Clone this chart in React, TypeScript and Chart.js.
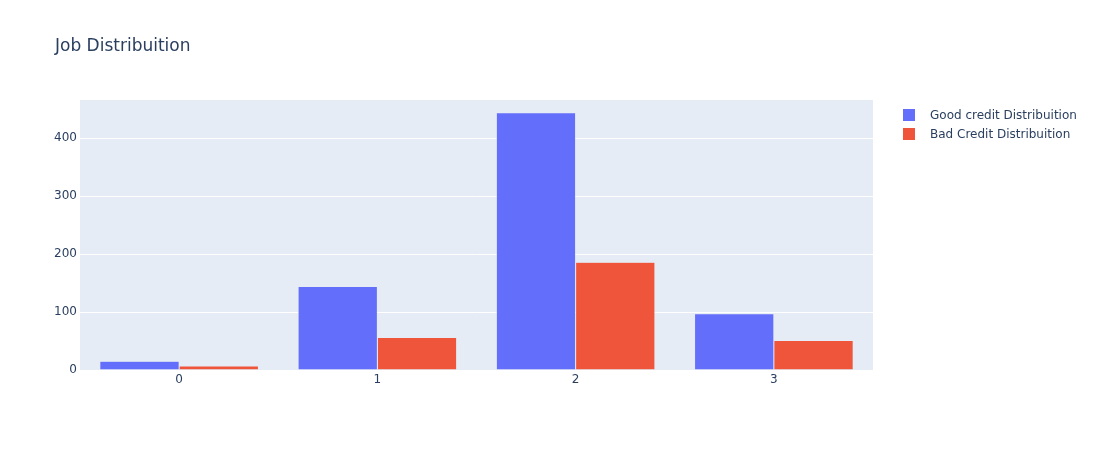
import { useEffect, useRef } from "react"
import { Chart, registerables } from "chart.js"

Chart.register(...registerables)

const jobCategories = ["0", "1", "2", "3"]
const goodCredit = [15, 144, 444, 97]
const badCredit = [7, 56, 186, 51]
const yTicks = [0, 100, 200, 300, 400]

const series = [
  { name: "Good credit Distribuition", data: goodCredit, color: "#636EFA" },
  { name: "Bad Credit Distribuition", data: badCredit, color: "#EF553B" },
]

const FONT = '"DejaVu Sans", Verdana, sans-serif'
const TEXT = "#2a3f5f"

// fills the plot area with the plotly-style light blue
const plotBg = {
  id: "plotBg",
  beforeDraw(chart: Chart) {
    const { ctx, chartArea } = chart
    ctx.save()
    ctx.fillStyle = "#E5ECF6"
    ctx.fillRect(chartArea.left, chartArea.top, chartArea.right - chartArea.left, chartArea.bottom - chartArea.top)
    ctx.restore()
  },
}

export default function App() {
  const chartRef = useRef<HTMLCanvasElement>(null)
  const chartInstance = useRef<Chart | null>(null)

  useEffect(() => {
    if (!chartRef.current) return
    if (chartInstance.current) chartInstance.current.destroy()
    const ctx = chartRef.current.getContext("2d")
    if (!ctx) return

    chartInstance.current = new Chart(ctx, {
      type: "bar",
      data: {
        labels: jobCategories,
        datasets: series.map((s) => ({
          label: s.name,
          data: s.data,
          backgroundColor: s.color,
          borderColor: "#E5ECF6",
          borderWidth: 0.5,
          categoryPercentage: 0.8,
          barPercentage: 1.0,
        })),
      },
      options: {
        responsive: false,
        animation: false,
        layout: { padding: { left: 40, right: 221, top: 100, bottom: 50 } },
        plugins: {
          legend: { display: false },
          title: { display: false },
          tooltip: { enabled: false },
        },
        scales: {
          x: {
            grid: { display: false, drawTicks: false },
            border: { display: false },
            ticks: { color: TEXT, font: { family: FONT, size: 12 }, padding: 3 },
            afterFit: (scale: any) => {
              scale.height = 30
            },
          },
          y: {
            min: 0,
            max: 466,
            afterBuildTicks: (scale: any) => {
              scale.ticks = yTicks.map((v) => ({ value: v }))
            },
            grid: { color: "#ffffff", lineWidth: 1, drawTicks: false },
            border: { display: false },
            ticks: { color: TEXT, font: { family: FONT, size: 12 }, padding: 3 },
            afterFit: (scale: any) => {
              scale.width = 40
            },
          },
        },
      },
      plugins: [plotBg],
    })

    return () => {
      if (chartInstance.current) chartInstance.current.destroy()
    }
  }, [])

  return (
    <div style={{ position: "fixed", left: 0, top: 0, width: 1094, height: 450, background: "#fff", fontFamily: FONT }}>
      <canvas ref={chartRef} width={1094} height={450} style={{ position: "absolute", left: 0, top: 0 }} />
      <div style={{ position: "absolute", left: 55, top: 35, fontSize: 17, color: TEXT }}>Job Distribuition</div>
      <div style={{ position: "absolute", left: 903, top: 105 }}>
        {series.map((s) => (
          <div key={s.name} style={{ display: "flex", alignItems: "center", height: 19 }}>
            <span style={{ width: 12, height: 12, background: s.color, display: "inline-block" }} />
            <span style={{ marginLeft: 15, fontSize: 12, color: TEXT }}>{s.name}</span>
          </div>
        ))}
      </div>
    </div>
  )
}
